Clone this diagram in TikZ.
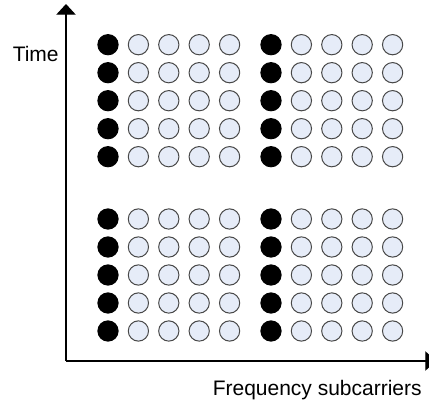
\documentclass[tikz,border=0pt]{standalone}
\usepackage{fontspec}
\setmainfont{Liberation Sans}
\usetikzlibrary{arrows.meta}
\definecolor{dotfill}{HTML}{E6ECF8}
\definecolor{dotline}{HTML}{484848}
\begin{document}
\begin{tikzpicture}[x=0.75pt,y=-0.75pt,
  pilot/.style={circle,fill=black,draw=black,line width=0.75pt,inner sep=0pt,minimum size=15.2pt},
  datadot/.style={circle,fill=dotfill,draw=dotline,line width=0.75pt,inner sep=0pt,minimum size=15.2pt},
  axis/.style={line width=0.9pt,-{Triangle[width=14.5pt,length=8pt]}},
  lbl/.style={font=\fontsize{15.75}{19}\selectfont,inner sep=0pt,anchor=base west}]
\useasboundingbox (0,0) rectangle (429,409);
\coordinate (O) at (66,361);
\coordinate (ytip) at (66,4);
\coordinate (xtip) at (436,361);
\draw[axis] (O) -- (ytip);
\draw[axis] (O) -- (xtip);
\node[lbl] (time) at (12.5,61.5) {Time};
\node[lbl] (freq) at (212.5,396) {Frequency subcarriers};
\foreach \gx/\x in {0/108,1/271}{
  \foreach \gy/\y in {0/44.7,1/219}{
    \foreach \r in {0,...,4}{
      \node[pilot] (p-\gx-\gy-\r) at (\x,\y+28*\r) {};
      \foreach \c in {1,...,4}{
        \node[datadot] (d-\gx-\gy-\r-\c) at (\x+30.4*\c,\y+28*\r) {};
      }
    }
  }
}
\end{tikzpicture}
\end{document}
